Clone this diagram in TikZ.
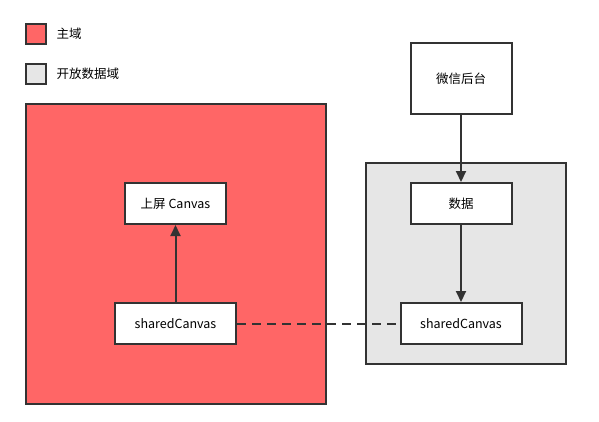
\documentclass[tikz,border=0pt]{standalone}
\usepackage{fontspec}
\setmainfont{Noto Sans CJK SC}
\usepackage{xcolor}
\usetikzlibrary{arrows.meta, positioning}
\definecolor{mainred}{HTML}{FF6666}
\definecolor{opengray}{HTML}{E6E6E6}
\definecolor{edge}{HTML}{333333}
\tikzset{
  box/.style={draw=edge, line width=2pt, fill=white, minimum width=101pt, minimum height=41pt, inner sep=0pt, font=\fontsize{12.5}{14}\selectfont},
  region/.style={draw=edge, line width=2pt},
  flow/.style={draw=edge, line width=2pt, -{Triangle[length=11pt, width=10pt]}},
  legend/.style={draw=edge, line width=2pt, minimum size=20pt, inner sep=0pt}
}
\begin{document}
\begin{tikzpicture}[x=1pt, y=-1pt]
          \useasboundingbox (0,0) rectangle (599,421);
          % legend
          \node[legend, fill=mainred] (keyA) at (35.5,34) {};
          \node[right=10pt of keyA, inner sep=0pt, font=\fontsize{12.5}{14}\selectfont] (keyAtext) {主域};
          \node[legend, fill=opengray] (keyB) at (35.5,73.5) {};
          \node[right=10pt of keyB, inner sep=0pt, font=\fontsize{12.5}{14}\selectfont] (keyBtext) {开放数据域};
          % domains
          \draw[region, fill=mainred] (26,104) rectangle (326,404);
          \draw[region, fill=opengray] (366,163) rectangle (566,364);
          % nodes
          \node[box] (screen) at (175.5,203.5) {上屏 Canvas};
          \node[box, minimum width=121pt] (sharedL) at (175.5,323.5) {sharedCanvas};
          \node[box, minimum height=71pt] (wx) at (461,78.5) {微信后台};
          \node[box] (data) at (461,203.5) {数据};
          \node[box, minimum width=121pt] (sharedR) at (461,323.5) {sharedCanvas};
          % connectors
          \draw[flow] (sharedL) -- (screen);
          \draw[flow] (wx) -- (data);
          \draw[flow] (data) -- (sharedR);
          \draw[draw=edge, line width=2pt, dash pattern=on 9pt off 6pt] (sharedL) -- (sharedR);
      \end{tikzpicture}
\end{document}
